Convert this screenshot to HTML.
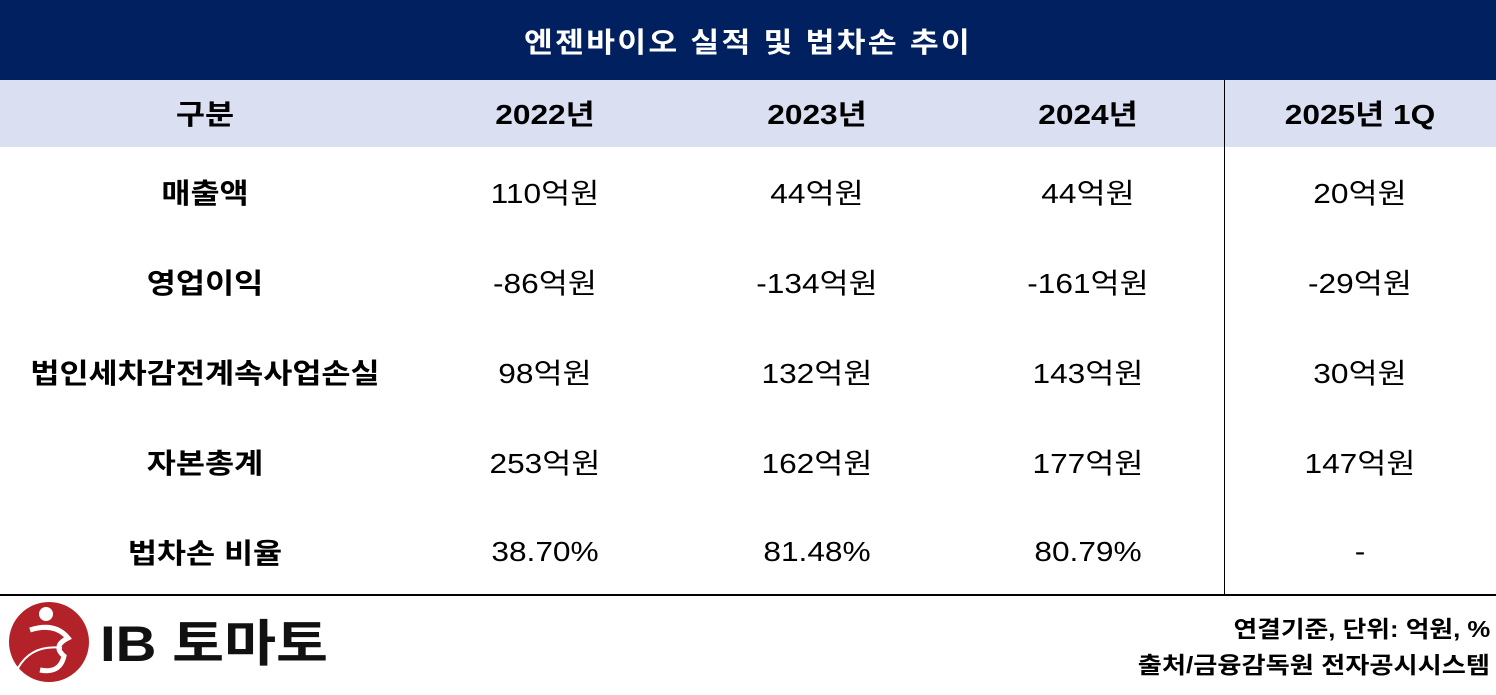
<!DOCTYPE html>
<html><head><meta charset="utf-8"><style>
body{margin:0;width:1496px;height:690px;background:#fff;position:relative;overflow:hidden;font-family:"Liberation Sans","Noto Sans CJK KR",sans-serif;}
.abs{position:absolute}
.t{position:absolute;transform:translate(-50%,-50%) scaleX(1.13);white-space:nowrap;font-size:28px;color:#000}
.b{font-weight:bold}
</style></head><body>
<div class="abs" style="left:0;top:0;width:1496px;height:80px;background:#002060"></div>
<div class="t b" style="left:748px;top:41px;color:#fff;font-size:28px;transform:translate(-50%,-50%) scaleX(1.12);letter-spacing:2px">엔젠바이오 실적 및 법차손 추이</div>
<div class="abs" style="left:0;top:80px;width:1496px;height:67px;background:#dae0f2"></div>
<div class="abs" style="left:1224px;top:80px;width:1px;height:515px;background:#000"></div>
<div class="abs" style="left:0;top:594px;width:1496px;height:2px;background:#000"></div>
<div id="cells"></div>
<div class="abs" style="left:0;top:598px;width:340px;height:92px">
<svg width="340" height="92"><circle cx="49" cy="44" r="40" fill="#b22228"/><circle cx="46" cy="16" r="7" fill="#fff"/><path d="M30 32 Q55 24 68 40 Q52 48 64 58 Q60 76 40 72" stroke="#fff" stroke-width="5" fill="none"/><path d="M18 70 Q32 46 62 50" stroke="#fff" stroke-width="2" fill="none"/>
<text x="100" y="63" font-family="Liberation Sans, Noto Sans CJK KR, sans-serif" font-weight="bold" font-size="50" fill="#111" textLength="228" lengthAdjust="spacingAndGlyphs">IB 토마토</text></svg></div>
<div class="abs b" style="right:6px;top:610px;font-size:23px;transform-origin:right;transform:scaleX(1.12)">연결기준, 단위: 억원, %</div>
<div class="abs b" style="right:6px;top:646px;font-size:23px;transform-origin:right;transform:scaleX(1.14)">출처/금융감독원 전자공시시스템</div>
<script>
const cols=[205,545,817,1088,1360];
const header=["구분","2022년","2023년","2024년","2025년 1Q"];
const rowLabels=["매출액","영업이익","법인세차감전계속사업손실","자본총계","법차손 비율"];
const y2022=["110억원","-86억원","98억원","253억원","38.70%"];
const y2023=["44억원","-134억원","132억원","162억원","81.48%"];
const y2024=["44억원","-161억원","143억원","177억원","80.79%"];
const y2025=["20억원","-29억원","30억원","147억원","-"];
const c=document.getElementById('cells');
function cell(txt,x,y,bold,name){const d=document.createElement('div');d.className='t'+(bold?' b':'');d.style.left=x+'px';d.style.top=y+'px';d.textContent=txt;


c.appendChild(d);}
header.forEach((h,i)=>cell(h,cols[i],113,true,'header-cell'));
const series=[rowLabels,y2022,y2023,y2024,y2025];
rowLabels.forEach((r,j)=>{const y=192+j*90;series.forEach((s,i)=>cell(s[j],cols[i],y,i===0,i===0?'row-label':'value-cell'));});
</script>
</body></html>
